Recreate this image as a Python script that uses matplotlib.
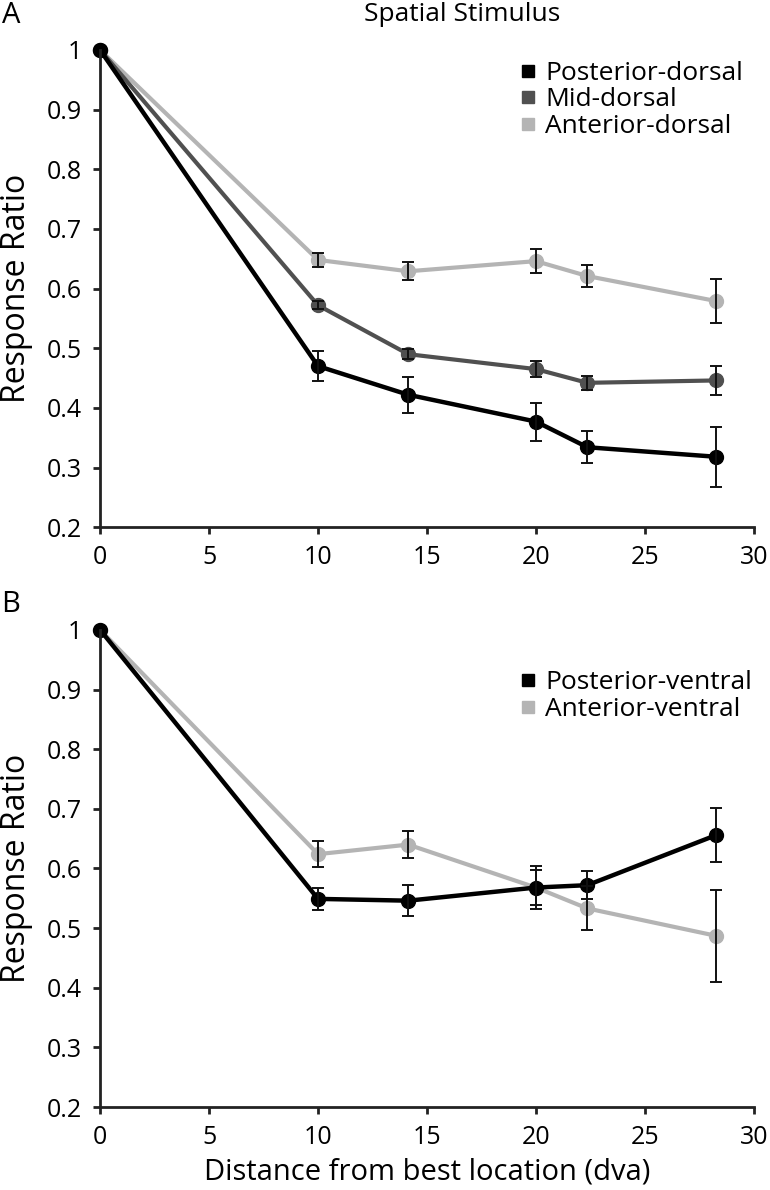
import matplotlib.pyplot as plt
from matplotlib.lines import Line2D

plt.rcParams['font.family'] = ['Open Sans', 'DejaVu Sans']

# distances (dva)
dist = [0, 10, 14.14, 20, 22.36, 28.28]

# panel A - dorsal
post_dorsal = [1.0, 0.470, 0.422, 0.377, 0.334, 0.318]
post_dorsal_err = [0, 0.025, 0.030, 0.032, 0.027, 0.050]
mid_dorsal = [1.0, 0.572, 0.490, 0.465, 0.442, 0.446]
mid_dorsal_err = [0, 0.007, 0.008, 0.014, 0.012, 0.025]
ant_dorsal = [1.0, 0.648, 0.629, 0.646, 0.621, 0.579]
ant_dorsal_err = [0, 0.012, 0.015, 0.020, 0.018, 0.037]

# panel B - ventral
post_ventral = [1.0, 0.549, 0.546, 0.568, 0.572, 0.656]
post_ventral_err = [0, 0.019, 0.026, 0.036, 0.024, 0.046]
ant_ventral = [1.0, 0.624, 0.640, 0.568, 0.533, 0.487]
ant_ventral_err = [0, 0.022, 0.023, 0.030, 0.037, 0.077]

yticks = [0.2, 0.3, 0.4, 0.5, 0.6, 0.7, 0.8, 0.9, 1]
ytick_labels = ['0.2', '0.3', '0.4', '0.5', '0.6', '0.7', '0.8', '0.9', '1']
xticks = [0, 5, 10, 15, 20, 25, 30]

BLACK = '#000000'
MID = '#505050'
LIGHT = '#b4b4b4'

fig = plt.figure(figsize=(7.7, 11.9), dpi=100)
axA = fig.add_axes([0.130, 0.557, 0.849, 0.401])
axB = fig.add_axes([0.130, 0.0697, 0.849, 0.401])


def draw_series(ax, y, err, color, lw):
    ax.plot(dist, y, color=color, lw=lw, marker='o', ms=10, mec=color, mfc=color,
            zorder=2, clip_on=False)
    ax.errorbar(dist[1:], y[1:], yerr=err[1:], fmt='none', ecolor='#111111',
                elinewidth=1.4, capsize=4, capthick=1.4, zorder=3)


def style_axis(ax):
    ax.set_xlim(0, 30)
    ax.set_ylim(0.2, 1.0)
    ax.set_xticks(xticks)
    ax.set_yticks(yticks)
    ax.set_yticklabels(ytick_labels)
    ax.spines['top'].set_visible(False)
    ax.spines['right'].set_visible(False)
    for s in ['left', 'bottom']:
        ax.spines[s].set_linewidth(2)
        ax.spines[s].set_color('#222222')
    ax.tick_params(direction='out', length=5, width=2, color='#222222', labelsize=18)
    ax.tick_params(axis='y', pad=8)
    ax.tick_params(axis='x', pad=8)
    ax.set_ylabel('Response Ratio', fontsize=23)
    ax.yaxis.set_label_coords(-0.103, 0.5)


def add_legend(ax, colors, labels, ycenter):
    handles = [Line2D([], [], ls='none', marker='s', ms=9, color=c) for c in colors]
    ax.legend(handles, labels, loc='center left', bbox_to_anchor=(0.672, ycenter),
              bbox_transform=fig.transFigure, frameon=False, fontsize=19,
              borderpad=0, borderaxespad=0, handletextpad=0.25,
              labelspacing=0.05, handlelength=0.8)


draw_series(axA, ant_dorsal, ant_dorsal_err, LIGHT, 3)
draw_series(axA, mid_dorsal, mid_dorsal_err, MID, 3)
draw_series(axA, post_dorsal, post_dorsal_err, BLACK, 3.2)
style_axis(axA)
add_legend(axA, (BLACK, MID, LIGHT), ['Posterior-dorsal', 'Mid-dorsal', 'Anterior-dorsal'], 0.916)

draw_series(axB, ant_ventral, ant_ventral_err, LIGHT, 3)
draw_series(axB, post_ventral, post_ventral_err, BLACK, 3.2)
style_axis(axB)
axB.set_xlabel('Distance from best location (dva)', fontsize=21, labelpad=5)
add_legend(axB, (BLACK, LIGHT), ['Posterior-ventral', 'Anterior-ventral'], 0.415)

fig.text(0.6, 0.988, 'Spatial Stimulus', ha='center', va='center', fontsize=19)
fig.text(0.002, 0.987, 'A', ha='left', va='center', fontsize=21)
fig.text(0.002, 0.492, 'B', ha='left', va='center', fontsize=21)

fig.savefig('out.png', dpi=100)
